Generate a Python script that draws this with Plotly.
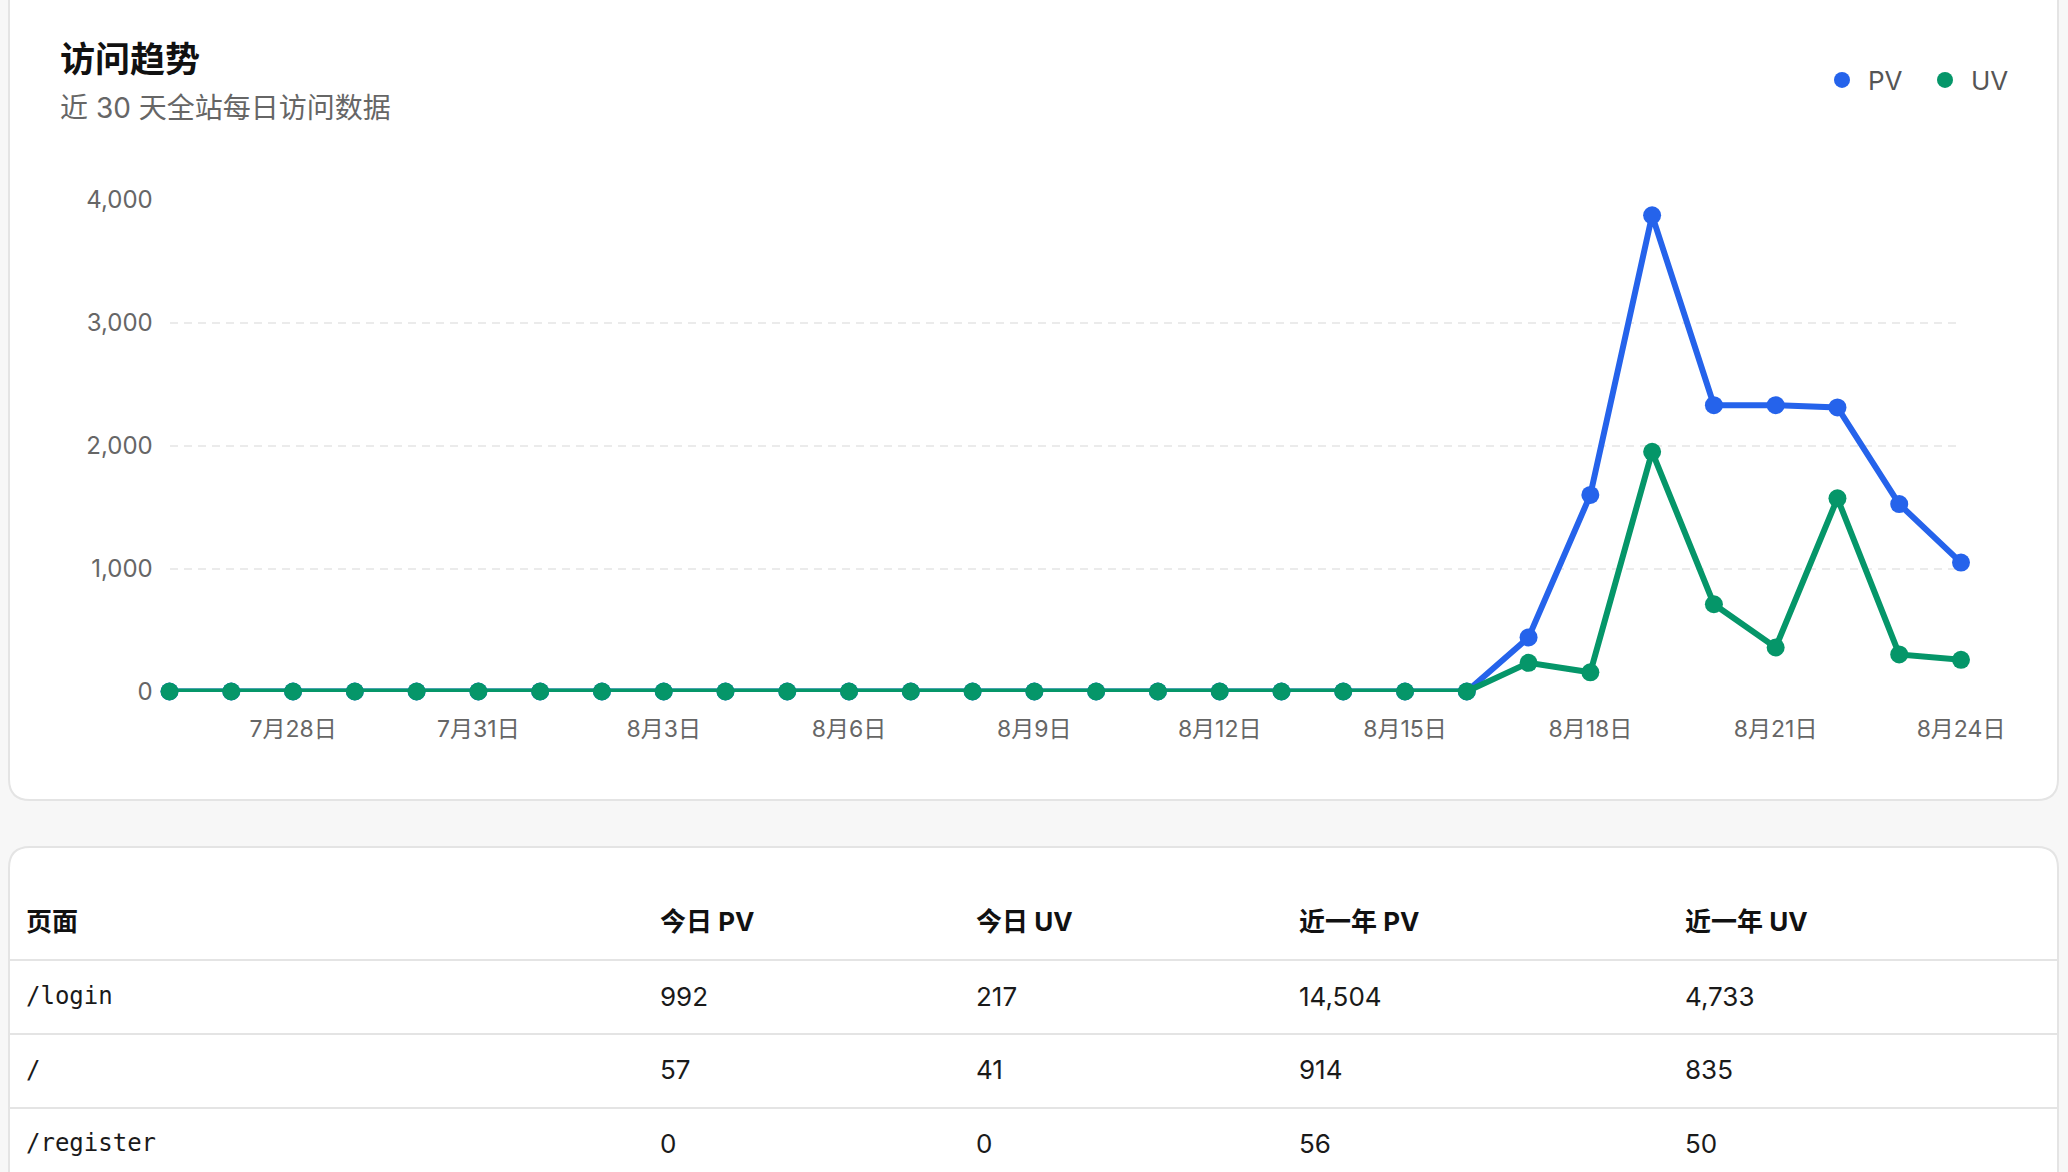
import plotly.graph_objects as go
import pandas as pd

W, H = 2068, 1172

# ---------------- data ----------------
dates = list(pd.date_range("2025-07-26", "2025-08-24", freq="D").strftime("%Y-%m-%d"))
pv = [0, 0, 0, 0, 0, 0, 0, 0, 0, 0, 0, 0, 0, 0, 0, 0, 0, 0, 0, 0, 0, 0,
      440, 1600, 3875, 2330, 2330, 2312, 1525, 1049]
uv = [0, 0, 0, 0, 0, 0, 0, 0, 0, 0, 0, 0, 0, 0, 0, 0, 0, 0, 0, 0, 0, 0,
      233, 156, 1951, 710, 358, 1572, 302, 258]
series_names = ["PV", "UV"]
series_colors = ["#2563eb", "#059669"]

title_text = "访问趋势"
subtitle_text = "近 30 天全站每日访问数据"

table_header = ["页面", "今日 PV", "今日 UV", "近一年 PV", "近一年 UV"]
pages = ["/login", "/", "/register"]
today_pv = [992, 57, 0]
today_uv = [217, 41, 0]
year_pv = [14504, 914, 56]
year_uv = [4733, 835, 50]

# ---------------- helpers ----------------
def px(x):
    return x / W

def py(y):
    return 1 - y / H

def rounded_rect(x0, y0, x1, y1, r):
    X0, X1 = px(x0), px(x1)
    Y0, Y1 = py(y0), py(y1)
    rx, ry = r / W, r / H
    return (f"M{X0 + rx},{Y0} L{X1 - rx},{Y0} Q{X1},{Y0} {X1},{Y0 - ry} "
            f"L{X1},{Y1 + ry} Q{X1},{Y1} {X1 - rx},{Y1} L{X0 + rx},{Y1} "
            f"Q{X0},{Y1} {X0},{Y1 + ry} L{X0},{Y0 - ry} Q{X0},{Y0} {X0 + rx},{Y0} Z")

FONT = "Inter, 'Noto Sans CJK SC', sans-serif"
MONO = "'DejaVu Sans Mono', monospace"

fig = go.Figure()

# lines
for name, vals, col in zip(series_names, [pv, uv], series_colors):
    fig.add_trace(go.Scatter(
        x=dates, y=vals, mode="lines+markers", name=name, showlegend=False,
        line=dict(color=col, width=6), marker=dict(color=col, size=18),
        cliponaxis=False,
    ))
# legend-only entries (dot only)
legend_widths = [46, None]
for name, col, lw in zip(series_names, series_colors, legend_widths):
    kw = dict(legendwidth=lw) if lw else {}
    fig.add_trace(go.Scatter(
        x=[None], y=[None], mode="markers", name=name,
        marker=dict(color=col, size=20), showlegend=True, **kw,
    ))

# table
fig.add_trace(go.Table(
    domain=dict(x=[px(18), 1], y=[0, py(898)]),
    columnwidth=[634, 316, 323, 386, 391],
    header=dict(
        values=[f"<b>{h}</b>" for h in table_header],
        align="left", height=80,
        fill=dict(color="rgba(0,0,0,0)"),
        line=dict(color="rgba(0,0,0,0)", width=0),
        font=dict(family=FONT, size=26, color="#111111"),
    ),
    cells=dict(
        values=[pages, today_pv, today_uv, year_pv, year_uv],
        format=["", ",", ",", ",", ","],
        align="left", height=73.5,
        fill=dict(color="rgba(0,0,0,0)"),
        line=dict(color="rgba(0,0,0,0)", width=0),
        font=dict(family=[MONO, FONT, FONT, FONT, FONT],
                  size=[24, 26, 26, 26, 26], color="#1a1a1a"),
    ),
))

shapes = [
    dict(type="path", xref="paper", yref="paper", layer="below",
         path=rounded_rect(9, -30, 2058, 800, 21),
         fillcolor="#ffffff", line=dict(color="#e4e4e4", width=2)),
    dict(type="path", xref="paper", yref="paper", layer="below",
         path=rounded_rect(9, 847, 2058, 1250, 21),
         fillcolor="#ffffff", line=dict(color="#e4e4e4", width=2)),
]
for yy in [960, 1034, 1108]:
    shapes.append(dict(type="line", xref="paper", yref="paper", layer="above",
                       x0=px(9), x1=px(2058), y0=py(yy), y1=py(yy),
                       line=dict(color="#e4e4e4", width=2)))

annotations = [
    dict(text=f"<b>{title_text}</b>", xref="paper", yref="paper",
         x=px(58), y=py(59), xanchor="left", yanchor="middle", showarrow=False,
         font=dict(family=FONT, size=35, color="#111111")),
    dict(text=subtitle_text, xref="paper", yref="paper",
         x=px(58), y=py(108), xanchor="left", yanchor="middle", showarrow=False,
         font=dict(family=FONT, size=28, color="#666666")),
]

fig.update_layout(
    width=W, height=H, margin=dict(l=0, r=0, t=0, b=0, autoexpand=False),
    paper_bgcolor="#f7f7f7", plot_bgcolor="rgba(0,0,0,0)",
    font=dict(family=FONT, color="#666666"),
    shapes=shapes, annotations=annotations,
    showlegend=True,
    legend=dict(orientation="h", xref="container", yref="container",
                x=px(2014), xanchor="right", y=py(80), yanchor="middle",
                font=dict(family=FONT, size=26, color="#555555"),
                bgcolor="rgba(0,0,0,0)", itemwidth=42, itemclick=False,
                itemdoubleclick=False),
    hovermode=False,
    xaxis=dict(
        type="date", domain=[px(169.5), px(1961)], automargin=False,
        range=[dates[0], dates[-1]],
        tick0="2025-07-28", dtick=3 * 86400000, tickformat="%-m月%-d日",
        showgrid=False, zeroline=False, showline=False,
        ticks="outside", ticklen=16, tickcolor="rgba(0,0,0,0)",
        tickfont=dict(family=FONT, size=23, color="#666666"),
        fixedrange=True,
    ),
    yaxis=dict(
        domain=[py(692.1), py(199.4)], range=[-5, 4005], dtick=1000, tick0=0,
        automargin=False,
        tickformat=",d", showgrid=True, gridcolor="#ebebeb", gridwidth=1.5,
        griddash="8px,6px", zeroline=False, showline=False,
        ticks="outside", ticklen=11, tickcolor="rgba(0,0,0,0)",
        tickfont=dict(family=FONT, size=24, color="#666666"),
        fixedrange=True,
    ),
)

fig.write_html(
    "out.html",
    config={"displayModeBar": False},
    post_script=("var st='margin:0;padding:0;overflow:hidden;';"
                 "document.documentElement.style.cssText=st;"
                 "document.body.style.cssText=st;"),
)
